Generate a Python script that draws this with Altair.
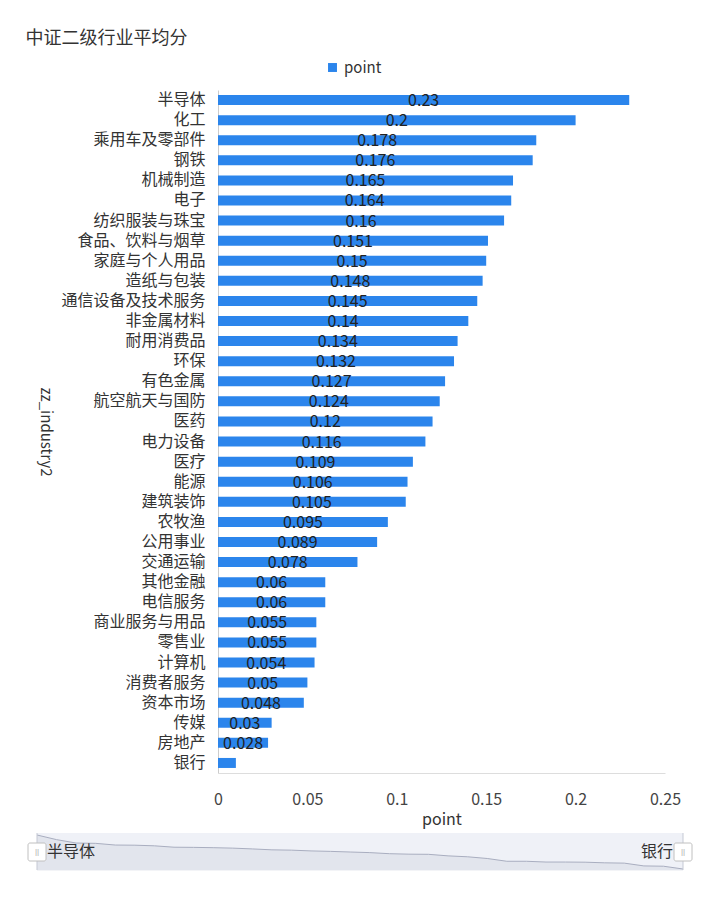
import altair as alt
import pandas as pd

industries = ["半导体", "化工", "乘用车及零部件", "钢铁", "机械制造", "电子", "纺织服装与珠宝",
              "食品、饮料与烟草", "家庭与个人用品", "造纸与包装", "通信设备及技术服务", "非金属材料",
              "耐用消费品", "环保", "有色金属", "航空航天与国防", "医药", "电力设备", "医疗", "能源",
              "建筑装饰", "农牧渔", "公用事业", "交通运输", "其他金融", "电信服务", "商业服务与用品",
              "零售业", "计算机", "消费者服务", "资本市场", "传媒", "房地产", "银行"]
points = [0.23, 0.2, 0.178, 0.176, 0.165, 0.164, 0.16, 0.151, 0.15, 0.148, 0.145, 0.14,
          0.134, 0.132, 0.127, 0.124, 0.12, 0.116, 0.109, 0.106, 0.105, 0.095, 0.089, 0.078,
          0.06, 0.06, 0.055, 0.055, 0.054, 0.05, 0.048, 0.03, 0.028, 0.01]
x_ticks = [0, 0.05, 0.1, 0.15, 0.2, 0.25]

FONT = "Noto Sans CJK SC"
BAR = "#2b85ec"

df = pd.DataFrame({"zz_industry2": industries, "point": points, "series": "point"})

y_enc = alt.Y("zz_industry2:N", sort=industries, title="zz_industry2",
              scale=alt.Scale(paddingInner=0.5, paddingOuter=0.25),
              axis=alt.Axis(labelFontSize=16, labelColor="#333", labelFont=FONT, ticks=False,
                            domainColor="#ccc", labelPadding=13, titleAngle=90,
                            titleFontSize=15, titleFontWeight="normal", titleColor="#333",
                            titleFont=FONT, titlePadding=23))
x_enc = alt.X("point:Q", title="point",
              scale=alt.Scale(domain=[0, 0.25], nice=False),
              axis=alt.Axis(values=x_ticks, grid=False, ticks=False, domainColor="#ddd",
                            labelExpr="toString(datum.value)",
                            labelFontSize=16, labelColor="#444", labelFont=FONT, labelPadding=18,
                            titleFontSize=16, titleFontWeight="normal", titleColor="#333",
                            titleFont=FONT, titlePadding=4, labelFlush=False))

bars = alt.Chart(df).mark_bar(height=10).encode(
    y=y_enc, x=x_enc,
    color=alt.Color("series:N", scale=alt.Scale(range=[BAR]),
                    legend=alt.Legend(title=None, orient="none", legendX=107, legendY=-30,
                                      symbolType="square", symbolSize=80, labelFontSize=15,
                                      labelColor="#333", labelFont=FONT)),
)
labels = alt.Chart(df).transform_filter("datum.point >= 0.02").transform_calculate(
    mid="datum.point / 2").mark_text(fontSize=16, font=FONT, color="#222", dy=1).encode(
    y=alt.Y("zz_industry2:N", sort=industries), x="mid:Q", text=alt.Text("point:Q"))

main = alt.layer(bars, labels).properties(width=447, height=683)

# slider (data zoom), spanning beyond the main plot's left edge
sx = alt.X("zz_industry2:N", sort=industries, axis=None,
           scale=alt.Scale(type="point", padding=0, range=[-181, 465]))
bg = alt.Chart(df).mark_area(color="#eff1f7", line=False).encode(
    x=sx, y=alt.value(0), y2=alt.value(37))
shadow = alt.Chart(df).mark_area(color="#dde0e8",
                                 line=alt.LineConfig(color="#a9aec0", strokeWidth=1)).encode(
    x=sx,
    y=alt.Y("point:Q", axis=None, scale=alt.Scale(domain=[min(points), max(points)], zero=False,
                                                   range=[36, 2])),
    y2=alt.value(37))
ends = pd.DataFrame({"zz_industry2": [industries[0], industries[-1]]})
edges = alt.Chart(ends).mark_rule(color="#c5c9d4").encode(x=sx, y=alt.value(0), y2=alt.value(37))
end_left = alt.Chart(ends.iloc[[0]]).mark_text(align="left", fontSize=16, font=FONT, color="#333",
                                               dx=10).encode(x=sx, y=alt.value(19), text="zz_industry2:N")
end_right = alt.Chart(ends.iloc[[1]]).mark_text(align="right", fontSize=16, font=FONT, color="#333",
                                                dx=-10).encode(x=sx, y=alt.value(19), text="zz_industry2:N")
handles = alt.Chart(ends).mark_rect(color="#ffffff", stroke="#c0c0c0", strokeWidth=1,
                                    cornerRadius=2).encode(
    x=sx, y=alt.value(10), y2=alt.value(28), size=alt.value(7))
grips = alt.Chart(ends).mark_text(text="||", fontSize=8, color="#aaa").encode(x=sx, y=alt.value(19))
slider = alt.layer(bg, shadow, edges, end_left, end_right, handles, grips).properties(
    width=447, height=37).resolve_scale(y="independent")

chart = alt.vconcat(main, slider, spacing=60, bounds="flush").properties(
    title=alt.TitleParams("中证二级行业平均分", anchor="start", fontSize=18, font=FONT,
                          fontWeight="normal", color="#333", offset=12, dx=-2),
    padding={"left": 25, "top": 30, "right": 10, "bottom": 5},
).configure_view(stroke=None)

chart.save("out.html", embed_options={"renderer": "svg", "actions": False})
